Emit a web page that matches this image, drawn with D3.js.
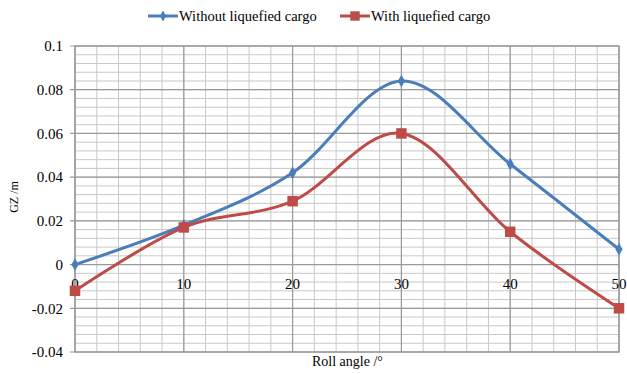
<!DOCTYPE html>
<html>
<head>
<meta charset="utf-8">
<script src="https://cdn.jsdelivr.net/npm/d3@7"></script>
<style>
  body { margin: 0; background: #fff; }
  text { font-family: "Liberation Serif", "Times New Roman", serif; fill: #000; }
</style>
</head>
<body>
<svg width="627" height="374"></svg>
<script>
const svg = d3.select('svg');

// data
const rollAngles = [0, 10, 20, 30, 40, 50];
const withoutCargo = [0, 0.018, 0.042, 0.084, 0.046, 0.007];
const withCargo = [-0.012, 0.017, 0.029, 0.060, 0.015, -0.020];
const xTicks = [0, 10, 20, 30, 40, 50];
const yTicks = [-0.04, -0.02, 0, 0.02, 0.04, 0.06, 0.08, 0.1];

// margins
const margin = { top: 46, left: 75, right: 8, bottom: 22 };
const width = 627 - margin.left - margin.right;
const height = 374 - margin.top - margin.bottom;

const g = svg.append('g')
  .attr('transform', `translate(${margin.left},${margin.top})`);

const x = d3.scaleLinear().domain([0, 50]).range([0, width]);
const y = d3.scaleLinear().domain([-0.04, 0.1]).range([height, 0]);

// minor grid
g.append('g').selectAll('line').data(d3.range(0, 50.001, 2))
  .enter().append('line')
  .attr('x1', d => x(d)).attr('x2', d => x(d))
  .attr('y1', 0).attr('y2', height)
  .attr('stroke', '#c8c8c8').attr('stroke-width', 1);
g.append('g').selectAll('line').data(d3.range(-0.04, 0.1001, 0.004))
  .enter().append('line')
  .attr('x1', 0).attr('x2', width)
  .attr('y1', d => y(d)).attr('y2', d => y(d))
  .attr('stroke', '#c8c8c8').attr('stroke-width', 1);

// major grid
g.append('g').selectAll('line').data(xTicks)
  .enter().append('line')
  .attr('x1', d => x(d)).attr('x2', d => x(d))
  .attr('y1', 0).attr('y2', height)
  .attr('stroke', '#9a9a9a').attr('stroke-width', 1.2);
g.append('g').selectAll('line').data(yTicks)
  .enter().append('line')
  .attr('x1', -5).attr('x2', width)
  .attr('y1', d => y(d)).attr('y2', d => y(d))
  .attr('stroke', '#9a9a9a').attr('stroke-width', 1.2);

// border
g.append('rect')
  .attr('width', width).attr('height', height)
  .attr('fill', 'none').attr('stroke', '#9a9a9a').attr('stroke-width', 1.2);

// y labels (plain hyphen minus like the original)
g.append('g').selectAll('text').data(yTicks)
  .enter().append('text')
  .attr('x', -12)
  .attr('y', d => y(d))
  .attr('dy', '0.35em')
  .attr('text-anchor', 'end')
  .style('font-size', '15px')
  .text(d => String(+d.toFixed(2)));

// x labels, sitting just under the zero line
g.append('g').selectAll('text').data(xTicks)
  .enter().append('text')
  .attr('x', d => x(d))
  .attr('y', y(0) + 24)
  .attr('text-anchor', 'middle')
  .style('font-size', '15px')
  .text(d => d);

// lines
const series = [
  { name: 'Without liquefied cargo', values: withoutCargo, color: '#4a7ebb', symbol: d3.symbolDiamond, size: 45 },
  { name: 'With liquefied cargo', values: withCargo, color: '#be4b48', symbol: d3.symbolSquare, size: 110 }
];

const line = d3.line()
  .x((d, i) => x(rollAngles[i]))
  .y(d => y(d))
  .curve(d3.curveCatmullRom.alpha(0));

series.forEach(s => {
  g.append('path')
    .attr('d', line(s.values))
    .attr('fill', 'none')
    .attr('stroke', s.color)
    .attr('stroke-width', 3);
  g.append('g').selectAll('path').data(s.values)
    .enter().append('path')
    .attr('transform', (d, i) => `translate(${x(rollAngles[i])},${y(d)})`)
    .attr('d', d3.symbol().type(s.symbol).size(s.size))
    .attr('fill', s.color);
});

// legend
const legendX = [148, 340];
series.forEach((s, i) => {
  const lg = svg.append('g').attr('transform', `translate(${legendX[i]},16)`);
  lg.append('line').attr('x1', 0).attr('x2', 30)
    .attr('stroke', s.color).attr('stroke-width', 3);
  lg.append('path').attr('transform', 'translate(15,0)')
    .attr('d', d3.symbol().type(s.symbol).size(s.size * 0.8))
    .attr('fill', s.color);
  lg.append('text').attr('x', 31).attr('dy', '0.35em')
    .style('font-size', '14.5px')
    .text(s.name);
});

// axis titles
svg.append('text')
  .text('Roll angle /°')
  .attr('x', 312)
  .attr('y', 366)
  .style('font-size', '14px');

svg.append('text')
  .text('GZ /m')
  .attr('transform', `translate(18,197) rotate(-90)`)
  .attr('text-anchor', 'middle')
  .style('font-size', '12px');
</script>
</body>
</html>
